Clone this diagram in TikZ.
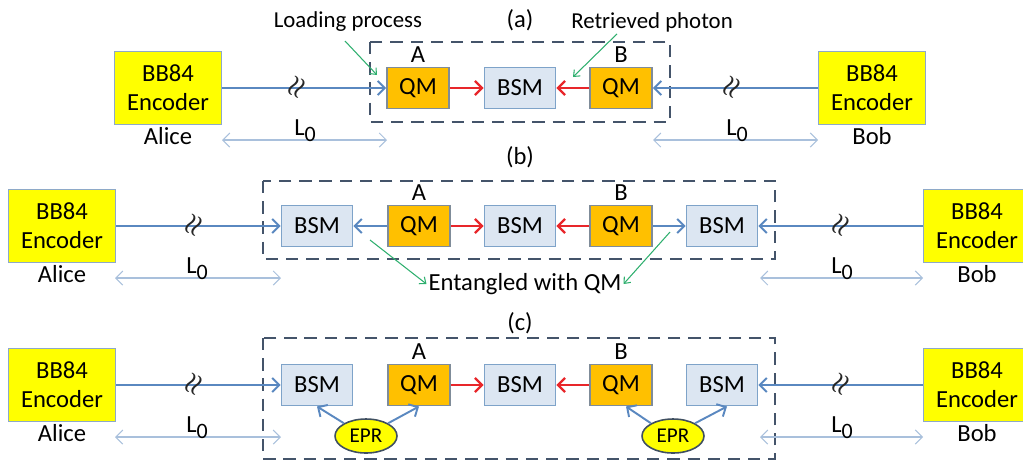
\documentclass[tikz,border=0pt]{standalone}
\usepackage{fontspec}
\setmainfont{Carlito}
\usetikzlibrary{arrows.meta,positioning,shapes.geometric,calc}
\definecolor{encfill}{HTML}{FFFF00}
\definecolor{encline}{HTML}{8EA9C8}
\definecolor{qmfill}{HTML}{FFC000}
\definecolor{qmline}{HTML}{7F8C99}
\definecolor{bsmfill}{HTML}{DCE6F2}
\definecolor{bsmline}{HTML}{7EA3C9}
\definecolor{linkblue}{HTML}{5A88C0}
\definecolor{relayred}{HTML}{E8262A}
\definecolor{spanblue}{HTML}{A9C0DC}
\definecolor{hintgreen}{HTML}{2EAF6E}
\definecolor{framegray}{HTML}{44546A}
\definecolor{eprline}{HTML}{3F4F60}
\tikzstyle{enc}=[rectangle, fill=encfill, draw=encline, line width=1.1pt, minimum width=2.14cm, minimum height=1.46cm, inner sep=0pt, align=center, font=\fontsize{14}{16.5}\selectfont]
\tikzstyle{qm}=[rectangle, fill=qmfill, draw=qmline, line width=1.1pt, minimum width=1.24cm, minimum height=0.82cm, inner sep=0pt, font=\fontsize{14}{16}\selectfont]
\tikzstyle{bsm}=[rectangle, fill=bsmfill, draw=bsmline, line width=1.1pt, minimum width=1.42cm, minimum height=0.82cm, inner sep=0pt, font=\fontsize{14}{16}\selectfont]
\tikzstyle{epr}=[ellipse, fill=encfill, draw=eprline, line width=0.9pt, minimum width=1.24cm, minimum height=0.68cm, inner sep=0pt, font=\fontsize{12}{13}\selectfont]
\tikzstyle{lbl}=[align=center, inner sep=1pt, font=\fontsize{14}{16}\selectfont]
\tikzstyle{hintlbl}=[align=center, inner sep=1pt, font=\fontsize{13}{15}\selectfont]
\tikzstyle{brk}=[inner sep=0pt, rotate=65, text=black!85, font=\fontsize{15}{15}\selectfont\boldmath]
\tikzstyle{link}=[draw=linkblue, line width=1.1pt, -{Straight Barb[length=4pt,width=8pt]}]
\tikzstyle{relay}=[draw=relayred, line width=1.3pt, -{Straight Barb[length=4pt,width=8pt]}]
\tikzstyle{span}=[draw=spanblue, line width=0.6pt, {Straight Barb[length=4pt,width=8pt]}-{Straight Barb[length=4pt,width=8pt]}]
\tikzstyle{hint}=[draw=hintgreen, line width=0.6pt, -{Straight Barb[length=3pt,width=5pt]}]
\tikzstyle{frame}=[draw=framegray, line width=1.4pt, dash pattern=on 7pt off 4.5pt]
\newcommand{\lzero}{L\raisebox{-0.55ex}{\fontsize{12.5}{12.5}\selectfont 0}}
% rows (b) and (c): #1 tag, #2 y of the row
\newcommand{\drawrow}[2]
{
  \node[enc] (encA#1) at (62,#2) {BB84\\Encoder};
  \node[enc] (encB#1) at (977,#2) {BB84\\Encoder};
  \node[lbl, below=0pt of encA#1] (alice#1) {Alice};
  \node[lbl, below=0pt of encB#1] (bob#1) {Bob};
  \node[bsm] (bsmL#1) at (317,#2) {BSM};
  \node[qm] (qmA#1) at (419,#2) {QM};
  \node[bsm] (bsmM#1) at (520,#2) {BSM};
  \node[qm] (qmB#1) at (621,#2) {QM};
  \node[bsm] (bsmR#1) at (722,#2) {BSM};
  \node[lbl, above=1pt of qmA#1] (labA#1) {A};
  \node[lbl, above=1pt of qmB#1] (labB#1) {B};
  \draw[link] (encA#1) -- (bsmL#1);
  \draw[link] (encB#1) -- (bsmR#1);
  \draw[relay] (qmA#1) -- (bsmM#1);
  \draw[relay] (qmB#1) -- (bsmM#1);
  \node[brk] (brkA#1) at (195,#2) {$\approx$};
  \node[brk] (brkB#1) at (842,#2) {$\approx$};
  \coordinate (spA1#1) at (115,{#2+52});
  \coordinate (spA2#1) at (281,{#2+52});
  \coordinate (spB1#1) at (760,{#2+52});
  \coordinate (spB2#1) at (923,{#2+52});
  \draw[span] (spA1#1) -- (spA2#1);
  \draw[span] (spB1#1) -- (spB2#1);
  \node[lbl, anchor=base] (lenA#1) at (197,{#2+47}) {\lzero};
  \node[lbl, anchor=base] (lenB#1) at (842,{#2+47}) {\lzero};
}

\begin{document}
\begin{tikzpicture}[x=0.02cm, y=-0.02cm]
	\useasboundingbox (0,0) rectangle (1023,461);

	% (a)
	\node[lbl] (capa) at (520,20) {(a)};
	\draw[frame] (370,42) rectangle (670,122);
	\node[enc] (encAa) at (168,88) {BB84\\Encoder};
	\node[enc] (encBa) at (872,88) {BB84\\Encoder};
	\node[lbl, below=0pt of encAa] (alicea) {Alice};
	\node[lbl, below=0pt of encBa] (boba) {Bob};
	\node[qm] (qmAa) at (418,88) {QM};
	\node[bsm] (bsmMa) at (520,88) {BSM};
	\node[qm] (qmBa) at (621,88) {QM};
	\node[lbl, above=1pt of qmAa] (labAa) {A};
	\node[lbl, above=1pt of qmBa] (labBa) {B};
	\draw[link] (encAa) -- (qmAa);
	\draw[link] (encBa) -- (qmBa);
	\draw[relay] (qmAa) -- (bsmMa);
	\draw[relay] (qmBa) -- (bsmMa);
	\node[brk] (brkAa) at (298,88) {$\approx$};
	\node[brk] (brkBa) at (733,88) {$\approx$};
	\coordinate (spA1a) at (222,140);
	\coordinate (spA2a) at (387,140);
	\coordinate (spB1a) at (653,140);
	\coordinate (spB2a) at (818,140);
	\draw[span] (spA1a) -- (spA2a);
	\draw[span] (spB1a) -- (spB2a);
	\node[lbl, anchor=base] (lenAa) at (305,135) {\lzero};
	\node[lbl, anchor=base] (lenBa) at (737,135) {\lzero};
	\node[hintlbl] (load) at (348,22) {Loading process};
	\node[hintlbl] (retr) at (652,22) {Retrieved photon};
	\coordinate (loadEnd) at (377,75);
	\coordinate (retrEnd) at (573,77);
	\draw[hint] ([xshift=-0.06cm,yshift=-0.14cm]load.south) -- (loadEnd);
	\draw[hint] ([xshift=-0.7cm]retr.south) -- (retrEnd);

	% (b)
	\node[lbl] (capb) at (520,157) {(b)};
	\draw[frame] (263,181) rectangle (775,259);
	\drawrow{b}{226}
	\draw[link] (qmAb) -- (bsmLb);
	\draw[link] (qmBb) -- (bsmRb);
	\node[lbl] (ent) at (525,284) {Entangled with QM};
	\coordinate (entL) at (370,240);
	\coordinate (entR) at (670,232);
	\draw[hint] (entL) -- (ent.west);
	\draw[hint] (entR) -- (ent.east);

	% (c)
	\node[lbl] (capc) at (520,323) {(c)};
	\draw[frame] (263,338) rectangle (775,459);
	\drawrow{c}{385}
	\node[epr] (eprA) at (366,436) {EPR};
	\node[epr] (eprB) at (673,436) {EPR};
	\draw[link] (eprA.150) -- (bsmLc.south);
	\draw[link] (eprA.30) -- (qmAc.south);
	\draw[link] (eprB.150) -- ([xshift=0.1cm]qmBc.south);
	\draw[link] (eprB.30) -- ([xshift=0.1cm]bsmRc.south);

\end{tikzpicture}
\end{document}
